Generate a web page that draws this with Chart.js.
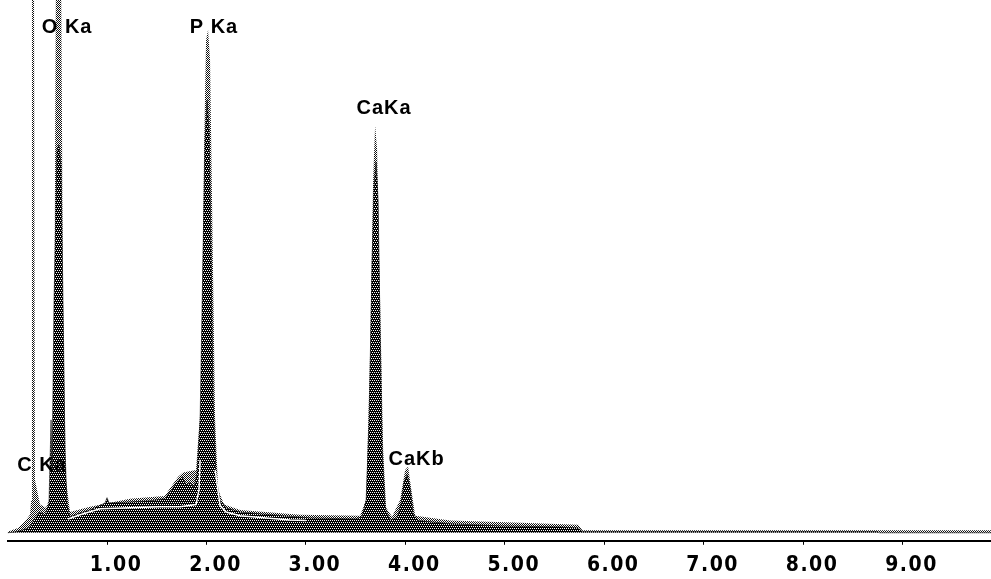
<!DOCTYPE html>
<html>
<head>
<meta charset="utf-8">
<script src="https://cdn.jsdelivr.net/npm/chart.js@4/dist/chart.umd.min.js"></script>
<style>
  html, body { margin: 0; padding: 0; background: #fff; }
  canvas { display: block; }
</style>
</head>
<body>
<canvas id="spectre" width="991" height="579"></canvas>
<script>
// spectre EDS : energie en keV, intensite en coups
const darkEnergy = [0.00, 0.085, 0.165, 0.225, 0.275, 0.325, 0.376, 0.416, 0.437, 0.447, 0.467, 0.482, 0.497, 0.517, 0.537, 0.557, 0.577, 0.598, 0.628, 0.708, 0.829, 0.98, 1.00, 1.02, 1.23, 1.43, 1.58, 1.65, 1.715, 1.755, 1.795, 1.835, 1.875, 1.905, 1.936, 1.966, 1.986, 2.006, 2.026, 2.046, 2.066, 2.097, 2.137, 2.197, 2.338, 2.64, 3.042, 3.495, 3.565, 3.606, 3.636, 3.666, 3.686, 3.706, 3.726, 3.746, 3.767, 3.797, 3.847, 3.918, 3.958, 3.988, 4.018, 4.048, 4.078, 4.129, 4.45, 4.95, 5.558, 5.74, 5.78, 8.75, 8.77, 9.89];
const darkCounts = [0, 2, 6, 11, 28, 39, 34, 53, 212, 118, 437, 568, 719, 728, 690, 437, 156, 53, 30, 36, 43, 56, 66, 56, 58, 60, 64, 81, 98, 105, 90, 94, 86, 111, 212, 531, 737, 812, 756, 531, 250, 103, 62, 47, 39, 34, 28, 26, 30, 62, 212, 512, 653, 696, 625, 381, 156, 47, 24, 28, 56, 96, 109, 84, 36, 23, 17, 13, 11, 9, 2, 2, 0, 0];

const dotEnergy = [0.00, 0.105, 0.185, 0.225, 0.237, 0.245, 0.265, 0.275, 0.326, 0.386, 0.427, 0.467, 0.487, 0.537, 0.557, 0.587, 0.628, 0.829, 1.23, 1.58, 1.715, 1.765, 1.895, 1.946, 1.976, 1.996, 2.016, 2.036, 2.056, 2.087, 2.117, 2.177, 2.338, 2.942, 3.545, 3.606, 3.646, 3.676, 3.696, 3.716, 3.746, 3.777, 3.807, 3.867, 3.948, 3.998, 4.028, 4.058, 4.099, 4.45, 5.155, 5.74, 5.78, 9.89];
const dotCounts = [2, 9, 24, 34, 60, 1094, 1094, 99, 53, 47, 66, 250, 1094, 1094, 437, 99, 39, 49, 64, 69, 105, 113, 118, 250, 719, 925, 944, 887, 625, 212, 81, 53, 43, 34, 32, 62, 343, 662, 765, 719, 437, 156, 47, 30, 62, 118, 124, 84, 32, 23, 19, 15, 5, 5];

const contEnergy = [0.608, 0.728, 0.93, 1.23, 1.533, 1.735, 1.895, 1.925, 1.936, 2.0, 2.087, 2.137, 2.197, 2.338, 2.84, 3.0];
const contCounts = [26, 34, 45, 47, 49, 49, 53, 81, 137, null, 118, 51, 39, 32, 24, 23];

const tickValues = [1, 2, 3, 4, 5, 6, 7, 8, 9];

const peakNames = ['C Ka', 'O Ka', 'P Ka', 'CaKa', 'CaKb'];
const peakEnergy = [0.277, 0.525, 2.013, 3.690, 4.012];
const peakLabelLevel = [126, 949, 949, 797, 137];

const canvas = document.getElementById('spectre');
const ctx = canvas.getContext('2d');

function trame(cells, fond) {
    const c = document.createElement('canvas');
    c.width = 4;
    c.height = 4;
    const g = c.getContext('2d');
    if (fond) {
        g.fillStyle = fond;
        g.fillRect(0, 0, 4, 4);
    }
    cells.forEach(([x, y, col]) => {
        g.fillStyle = col;
        g.fillRect(x, y, 1, 1);
    });
    return ctx.createPattern(c, 'repeat');
}

// trame dense (noir avec trous blancs) et trame pointillee
const trameFoncee = trame([[0, 0, '#fff'], [2, 0, '#fff'], [1, 2, '#fff'], [3, 2, '#fff']], '#000');
const tramePoints = trame([[0, 0, '#111'], [2, 0, '#111'], [1, 1, '#111'], [3, 1, '#111'], [0, 2, '#111'], [2, 2, '#111'], [1, 3, '#111'], [3, 3, '#111']], null);

const toPoints = (xs, ys) => xs.map((x, i) => ({ x: x, y: ys[i] }));

const etiquettes = {
    id: 'etiquettes',
    beforeDraw(chart) {
        chart.ctx.letterSpacing = '1.5px';
    },
    afterDraw(chart) {
        const c = chart.ctx;
        const xs = chart.scales.x;
        const ys = chart.scales.y;
        c.save();
        c.letterSpacing = '1px';
        c.font = 'bold 20px "Liberation Sans", Arial, sans-serif';
        c.fillStyle = '#000';
        c.textAlign = 'left';
        c.textBaseline = 'middle';
        peakNames.forEach((nom, i) => {
            c.fillText(nom, xs.getPixelForValue(peakEnergy[i]) - 18, ys.getPixelForValue(peakLabelLevel[i]));
        });
        c.restore();
        chart.ctx.letterSpacing = '0px';
    }
};

new Chart(canvas, {
    type: 'line',
    data: {
        datasets: [
            {
                label: 'continuum',
                data: toPoints(contEnergy, contCounts),
                borderColor: '#fff',
                borderWidth: 1.5,
                fill: false,
                pointRadius: 0,
                spanGaps: false
            },
            {
                label: 'spectre',
                data: toPoints(darkEnergy, darkCounts),
                borderColor: 'rgba(0,0,0,0.55)',
                borderWidth: 1,
                backgroundColor: trameFoncee,
                fill: 'origin',
                pointRadius: 0
            },
            {
                label: 'reference',
                data: toPoints(dotEnergy, dotCounts),
                borderWidth: 0,
                borderColor: 'rgba(0,0,0,0)',
                backgroundColor: tramePoints,
                fill: 'origin',
                pointRadius: 0
            }
        ]
    },
    options: {
        responsive: false,
        animation: false,
        devicePixelRatio: 1,
        layout: {
            autoPadding: false,
            padding: { left: 7.6, right: 0, top: 0, bottom: -7 }
        },
        plugins: {
            legend: { display: false },
            tooltip: { enabled: false }
        },
        elements: { line: { tension: 0 } },
        scales: {
            x: {
                type: 'linear',
                min: 0,
                max: 9.89,
                afterBuildTicks: (scale) => {
                    scale.ticks = tickValues.map(v => ({ value: v }));
                },
                grid: {
                    drawOnChartArea: false,
                    drawTicks: true,
                    tickLength: 4,
                    color: '#000',
                    lineWidth: 1
                },
                border: { display: true, color: '#000', width: 2 },
                ticks: {
                    autoSkip: false,
                    maxRotation: 0,
                    padding: 8,
                    labelOffset: 9,
                    color: '#000',
                    font: { family: '"Liberation Sans Narrow", "DejaVu Sans Condensed", sans-serif', size: 21, weight: 'bold' },
                    callback: (v) => Number(v).toFixed(2)
                }
            },
            y: {
                display: false,
                min: -15,
                max: 1000
            }
        }
    },
    plugins: [etiquettes]
});
</script>
</body>
</html>
